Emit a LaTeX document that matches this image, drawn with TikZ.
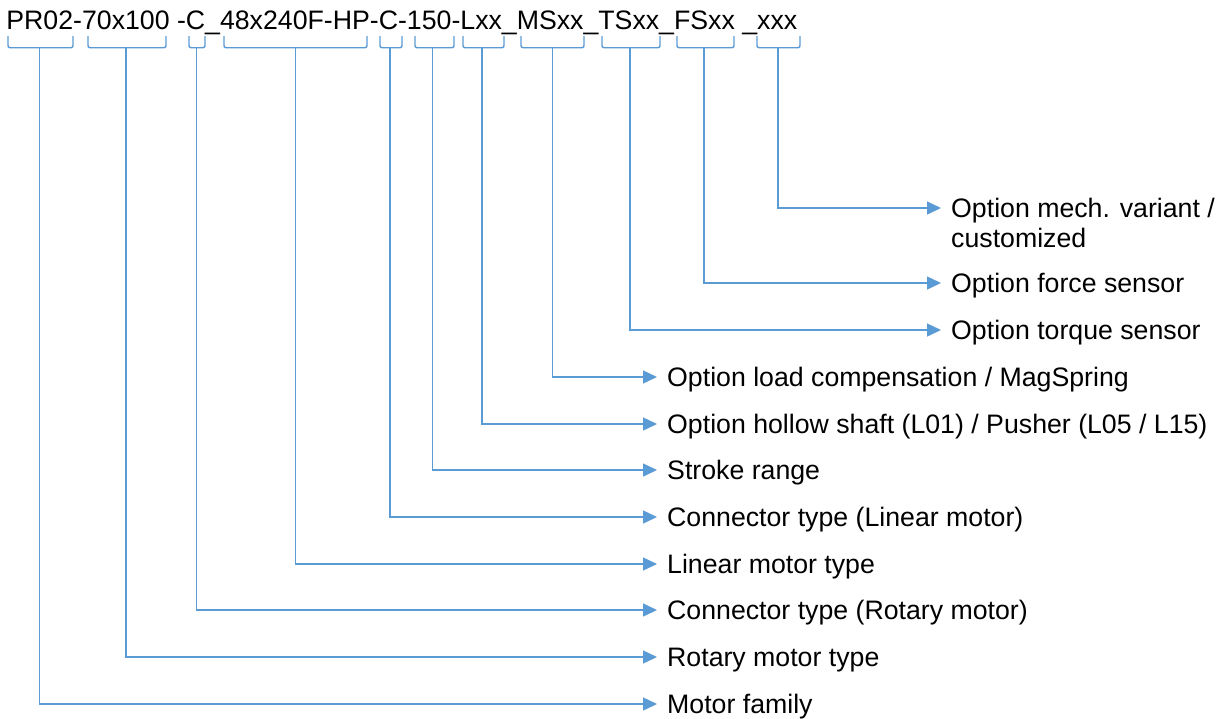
\documentclass[tikz,border=0pt]{standalone}
\usepackage{fontspec}
\setmainfont{Liberation Sans}
\usetikzlibrary{arrows.meta}
\definecolor{lineblue}{HTML}{5B9BD5}
\begin{document}
\begin{tikzpicture}[x=1pt,y=-1pt,
  txt/.style={font=\fontsize{26.7}{30}\selectfont, inner sep=0pt, anchor=base west},
  brk/.style={draw=lineblue, line width=1.4pt, rounded corners=2pt},
  conn/.style={draw=lineblue, line width=1.4pt, -{Triangle[length=14pt,width=13pt]}}]
\useasboundingbox (0,0) rectangle (1217,718);
\node[txt] (code) at (6.2,29.3) {PR02-70x100 -C\_48x240F-HP-C-150-Lxx\_MSxx\_TSxx\_FSxx \_xxx};
% brackets under the code segments
\foreach \l/\r/\c/\n in {8/73/39.3/bfam, 88/166/126/brot, 189/205/196.7/bcr, 224/367/295.3/blin, 380/402/390/bcl, 415/454/432.7/bstr, 463/504/482/bhol, 521/584/552.7/bload, 602/660/630/btor, 677/734/704/bforce, 757/800/778/bmech}{
  \draw[brk] (\l,36) -- (\l,47.7) -- (\r,47.7) -- (\r,36);
  \coordinate (\n) at (\c,47.7);
}
% labels
\node[txt] (lmech) at (951,217.5) {\begin{tabular}[t]{@{}l@{}}Option mech. variant /\\customized\end{tabular}};
\node[txt] (lforce) at (951,292.5) {Option force sensor};
\node[txt] (ltor) at (951,339.5) {Option torque sensor};
\node[txt] (lload) at (667,386.5) {Option load compensation / MagSpring};
\node[txt] (lhol) at (667,433.5) {Option hollow shaft (L01) / Pusher (L05 / L15)};
\node[txt] (lstr) at (667,479.5) {Stroke range};
\node[txt] (lcl) at (667,526.5) {Connector type (Linear motor)};
\node[txt] (llin) at (667,573.5) {Linear motor type};
\node[txt] (lcr) at (667,619.5) {Connector type (Rotary motor)};
\node[txt] (lrot) at (667,666.5) {Rotary motor type};
\node[txt] (lfam) at (667,713.5) {Motor family};
% connectors
\foreach \b/\t in {bmech/lmech, bforce/lforce, btor/ltor, bload/lload, bhol/lhol, bstr/lstr, bcl/lcl, blin/llin, bcr/lcr, brot/lrot, bfam/lfam}{
  \draw[conn] (\b) |- ([xshift=-10pt,yshift=9.5pt]\t.base west);
}
\end{tikzpicture}
\end{document}
